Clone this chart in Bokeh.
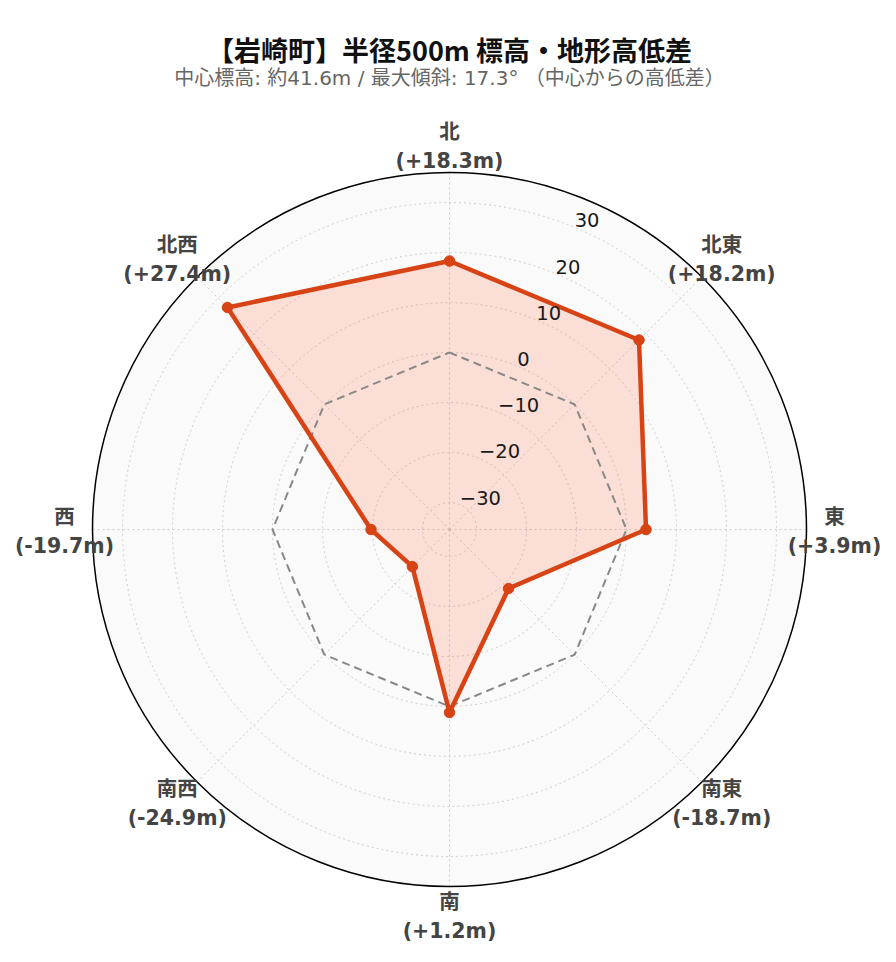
import math
from bokeh.plotting import figure
from bokeh.models import Range1d
from bokeh.core.properties import value
from bokeh.embed import file_html
from bokeh.resources import INLINE

# ---- data ----
title_text = "【岩崎町】半径500m 標高・地形高低差"
subtitle_text = "中心標高: 約41.6m / 最大傾斜: 17.3° （中心からの高低差）"
directions = ["北", "北東", "東", "南東", "南", "南西", "西", "北西"]
diffs = [18.3, 18.2, 3.9, -18.7, 1.2, -24.9, -19.7, 27.4]
tick_values = [-30, -20, -10, 0, 10, 20, 30]
tick_labels = ["\u221230", "\u221220", "\u221210", "0", "10", "20", "30"]
r_min, r_max = -35.4, 36.0
reference_level = 0

# ---- layout ----
W, H = 880, 946
CX, CY = 449, 417          # centre of the polar area (data units == pixels)
R = 357                    # outer radius in pixels
LABEL_R = 385
AXIS_ANGLE = 22.5

p = figure(width=W, height=H, x_range=Range1d(0, W), y_range=Range1d(0, H),
           output_backend="svg", toolbar_location=None, min_border=0)
p.axis.visible = False
p.grid.visible = False
p.outline_line_color = None
p.background_fill_color = "white"
p.border_fill_color = "white"


def rad(v):
    return (v - r_min) / (r_max - r_min) * R


def polar(r, ang_deg):
    a = math.radians(ang_deg)
    return CX + r * math.sin(a), CY + r * math.cos(a)


n = len(directions)
angles = [i * 360.0 / n for i in range(n)]

# background disk
p.circle(x=[CX], y=[CY], radius=R, fill_color="#fafafa", line_color=None)

# grid circles
p.circle(x=[CX] * len(tick_values), y=[CY] * len(tick_values),
         radius=[rad(t) for t in tick_values], fill_color=None,
         line_color="#cfcfcf", line_dash="2 3", line_width=1)

# spokes
sx, sy = [], []
for a in angles:
    x1, y1 = polar(R, a)
    sx.append([CX, x1])
    sy.append([CY, y1])
p.multi_line(xs=sx, ys=sy, line_color="#cfcfcf", line_dash="2 3", line_width=1)

# data polygon
pts = [polar(rad(v), a) for v, a in zip(diffs, angles)]
px = [q[0] for q in pts]
py = [q[1] for q in pts]
p.patch(px, py, fill_color="#ff7043", fill_alpha=0.2, line_color=None)

# zero reference octagon
zpts = [polar(rad(reference_level), a) for a in angles]
zx = [q[0] for q in zpts] + [zpts[0][0]]
zy = [q[1] for q in zpts] + [zpts[0][1]]
p.line(zx, zy, line_color="#888888", line_width=2, line_dash="8 5")

# data line + markers
p.line(px + [px[0]], py + [py[0]], line_color="#d84315", line_width=4.5, line_join="round")
p.scatter(px, py, size=10.5, fill_color="#d84315", line_color="#d84315")

# outer circle
p.circle(x=[CX], y=[CY], radius=R, fill_color=None, line_color="black", line_width=1.5)

# radial tick labels
tx, ty = [], []
for t in tick_values:
    x, y = polar(rad(t), AXIS_ANGLE)
    tx.append(x)
    ty.append(y)
p.text(x=tx, y=ty, text=tick_labels, text_align="left", text_baseline="bottom",
       text_font=value("DejaVu Sans"), text_font_size="19.5px", text_color="#1a1a1a")

# angular labels
lx, ly = [], []
for a in angles:
    x, y = polar(LABEL_R, a)
    lx.append(x)
    ly.append(y - 2)
val_texts = ["(%+.1fm)" % v for v in diffs]
p.text(x=lx, y=[y + 14.5 for y in ly], text=directions, text_align="center",
       text_baseline="middle", text_font=value("DejaVu Sans, Noto Sans CJK JP"),
       text_font_style="bold", text_font_size="20.5px", text_color="#444444")
p.text(x=lx, y=[y - 14.5 for y in ly], text=val_texts, text_align="center",
       text_baseline="middle", text_font=value("DejaVu Sans"),
       text_font_style="bold", text_font_size="20.5px", text_color="#444444")

# title + subtitle
p.text(x=[CX], y=[897], text=[title_text], text_align="center", text_baseline="middle",
       text_font=value("Noto Sans CJK JP"), text_font_style="bold",
       text_font_size="27px", text_color="#111111")
p.text(x=[CX], y=[869], text=[subtitle_text], text_align="center", text_baseline="middle",
       text_font=value("DejaVu Sans, Noto Sans CJK JP"),
       text_font_size="20px", text_color="#666666")

open("out.html", "w").write(file_html(p, INLINE))
